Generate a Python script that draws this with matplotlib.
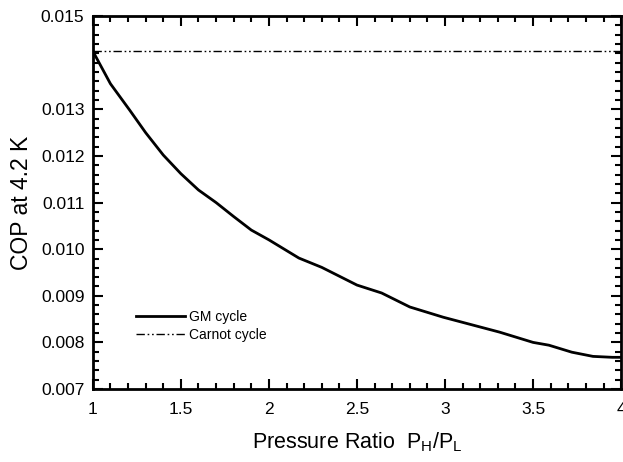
import matplotlib
matplotlib.use("Agg")
import matplotlib.pyplot as plt
from matplotlib.ticker import MultipleLocator, FixedLocator, FormatStrFormatter

plt.rcParams['font.family'] = ['Liberation Sans', 'DejaVu Sans']
plt.rcParams['mathtext.fontset'] = 'custom'
plt.rcParams['mathtext.rm'] = 'Liberation Sans'
plt.rcParams['mathtext.it'] = 'Liberation Sans'

# Data
pressure_ratio = [1.0, 1.1, 1.21, 1.3, 1.4, 1.5, 1.6, 1.7, 1.8, 1.9, 2.0, 2.17, 2.30, 2.50,
                  2.64, 2.80, 2.99, 3.16, 3.31, 3.50, 3.59, 3.72, 3.84, 3.95, 4.0]
cop_gm = [0.01425, 0.01355, 0.01298, 0.01250, 0.01202, 0.01162, 0.01127, 0.01100, 0.01070,
          0.01041, 0.01020, 0.00981, 0.00961, 0.00923, 0.00906, 0.00876, 0.00854, 0.00837,
          0.00822, 0.00800, 0.00794, 0.00779, 0.00770, 0.00768, 0.00768]
cop_carnot = 0.01425
x_ticks = [1, 1.5, 2, 2.5, 3, 3.5, 4]
y_ticks = [0.007, 0.008, 0.009, 0.010, 0.011, 0.012, 0.013, 0.015]

fig = plt.figure(figsize=(6.23, 4.62), dpi=100)
ax = fig.add_axes([0.149, 0.158, 0.848, 0.807])

ax.plot(pressure_ratio, cop_gm, color='black', lw=2.0, label='GM cycle')
ax.plot([pressure_ratio[0], pressure_ratio[-1]], [cop_carnot, cop_carnot], color='black',
        lw=1.0, dashes=(6, 2, 1.2, 2, 1.2, 2), label='Carnot cycle')

ax.set_xlim(1, 4)
ax.set_ylim(0.007, 0.015)
ax.xaxis.set_major_locator(FixedLocator(x_ticks))
ax.xaxis.set_minor_locator(MultipleLocator(0.1))
ax.yaxis.set_major_locator(FixedLocator(y_ticks))
ax.yaxis.set_minor_locator(MultipleLocator(0.0002))
ax.yaxis.set_major_formatter(FormatStrFormatter('%.3f'))
ax.set_xticklabels(['1', '1.5', '2', '2.5', '3', '3.5', '4'])

ax.tick_params(which='both', direction='in', top=True, right=True, width=1.5, labelsize=12.5)
ax.tick_params(which='major', length=7, pad=6)
ax.tick_params(axis='x', which='major', pad=9)
ax.tick_params(which='minor', length=4)
for s in ax.spines.values():
    s.set_linewidth(2)

ax.set_ylabel('COP at 4.2 K', fontsize=16.5, labelpad=6)
ax.set_xlabel(r'Pressure Ratio  P$_\mathrm{H}$/P$_\mathrm{L}$', fontsize=15.5, labelpad=10)

leg = ax.legend(loc='upper left', bbox_to_anchor=(0.058, 0.245), frameon=False, fontsize=10,
                handlelength=3.5, handletextpad=0.35, labelspacing=0.3)

fig.savefig('out.png', dpi=100)
